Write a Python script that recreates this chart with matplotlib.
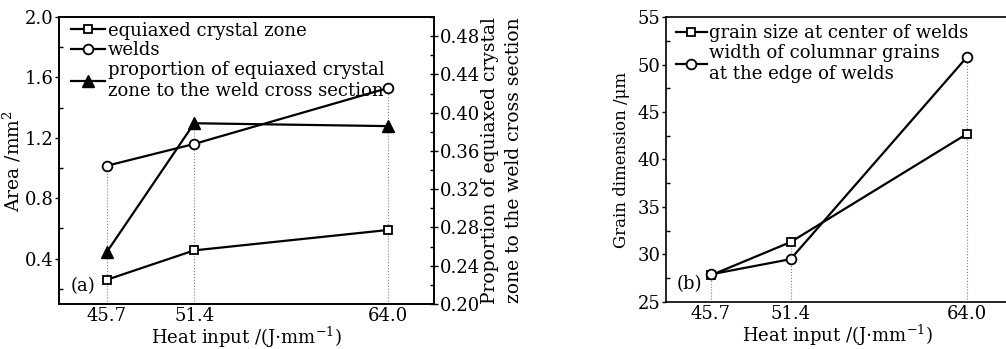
import matplotlib.pyplot as plt
from matplotlib.ticker import MultipleLocator

plt.rcParams['font.family'] = ['DejaVu Serif']
plt.rcParams['mathtext.fontset'] = 'dejavuserif'

# data
heat_input = [45.7, 51.4, 64.0]
area_equiaxed = [0.26, 0.455, 0.59]
area_welds = [1.015, 1.16, 1.53]
proportion = [0.254, 0.389, 0.386]
grain_center = [27.8, 31.3, 42.7]
grain_edge = [27.9, 29.5, 50.8]

fig = plt.figure(figsize=(10.06, 3.49), dpi=100)
fs = 13
fl = 13.5

# ---- (a) ----
ax1 = fig.add_axes([0.0586, 0.129, 0.3728, 0.822])
ax2 = ax1.twinx()

ax1.plot(heat_input, area_equiaxed, '-s', color='black', lw=1.6, ms=6,
         mfc='white', mec='black', mew=1.3, label='equiaxed crystal zone', zorder=3)
ax1.plot(heat_input, area_welds, '-o', color='black', lw=1.6, ms=7,
         mfc='white', mec='black', mew=1.3, label='welds', zorder=3)
ax2.plot(heat_input, proportion, '-^', color='black', lw=1.6, ms=8,
         label='proportion of equiaxed crystal\nzone to the weld cross section', zorder=3)

ax1.set_xlim(42.6, 67.0)
ax1.set_ylim(0.1, 2.0)
ax2.set_ylim(0.20, 0.50)

# dotted guide lines up to the highest point at each x
tops_a = [max(a, (p - 0.20) / 0.30 * 1.9 + 0.1) for a, p in zip(area_welds, proportion)]
for x, t in zip(heat_input, tops_a):
    ax1.plot([x, x], [0.1, t], ':', color='gray', lw=0.8, zorder=1)

ax1.set_xticks(heat_input)
ax1.set_xticklabels(['45.7', '51.4', '64.0'])
ax1.yaxis.set_minor_locator(MultipleLocator(0.2))
ax1.set_yticks([0.4, 0.8, 1.2, 1.6, 2.0])
ax2.yaxis.set_minor_locator(MultipleLocator(0.02))
ax2.set_yticks([0.20, 0.24, 0.28, 0.32, 0.36, 0.40, 0.44, 0.48])
ax2.set_yticklabels(['0.20', '0.24', '0.28', '0.32', '0.36', '0.40', '0.44', '0.48'])

ax1.tick_params(axis='x', length=0, labelsize=fs, pad=2)
ax1.tick_params(axis='y', which='major', direction='out', length=3, width=1, labelsize=fs, pad=1)
ax1.tick_params(axis='y', which='minor', direction='in', length=3, width=1)
ax2.tick_params(axis='y', which='major', direction='inout', length=6, width=1, labelsize=fs, pad=1)
ax2.tick_params(axis='y', which='minor', direction='in', length=3, width=1)

ax1.set_xlabel('Heat input /(J$\\cdot$mm$^{-1}$)', fontsize=fs, labelpad=0)
ax1.set_ylabel('Area /mm$^2$', fontsize=fl, labelpad=1)
ax2.set_ylabel('Proportion of equiaxed crystal\nzone to the weld cross section',
               fontsize=fl, labelpad=1, linespacing=1.4)

for ax in (ax1, ax2):
    for s in ax.spines.values():
        s.set_linewidth(1.2)

h1, l1 = ax1.get_legend_handles_labels()
h2, l2 = ax2.get_legend_handles_labels()
leg = ax1.legend(h1 + h2, l1 + l2, loc='upper left', bbox_to_anchor=(0.019, 1.0),
                 frameon=False, fontsize=fs,
                 handlelength=1.9, handletextpad=0.15, labelspacing=0.1,
                 borderaxespad=0.1, borderpad=0.15)
leg.set_zorder(5)
ax1.text(0.03, 0.03, '(a)', transform=ax1.transAxes, fontsize=fs, ha='left', va='bottom')

# ---- (b) ----
ax3 = fig.add_axes([0.662, 0.135, 0.341, 0.816])
ax3.plot(heat_input, grain_center, '-s', color='black', lw=1.6, ms=6,
         mfc='white', mec='black', mew=1.3, label='grain size at center of welds', zorder=3)
ax3.plot(heat_input, grain_edge, '-o', color='black', lw=1.6, ms=7,
         mfc='white', mec='black', mew=1.3,
         label='width of columnar grains\nat the edge of welds', zorder=3)
ax3.set_xlim(42.5, 67.0)
ax3.set_ylim(25, 55)
for x, a, b in zip(heat_input, grain_center, grain_edge):
    ax3.plot([x, x], [25, max(a, b)], ':', color='gray', lw=0.8, zorder=1)

ax3.set_xticks(heat_input)
ax3.set_xticklabels(['45.7', '51.4', '64.0'])
ax3.yaxis.set_major_locator(MultipleLocator(5))
ax3.yaxis.set_minor_locator(MultipleLocator(2.5))
ax3.tick_params(axis='x', length=0, labelsize=fs, pad=2)
ax3.tick_params(axis='y', which='major', direction='out', length=3, width=1, labelsize=fs, pad=1)
ax3.tick_params(axis='y', which='minor', direction='in', length=3, width=1)
ax3.set_xlabel('Heat input /(J$\\cdot$mm$^{-1}$)', fontsize=fs, labelpad=0)
ax3.set_ylabel('Grain dimension /μm', fontsize=12, labelpad=5)
for s in ax3.spines.values():
    s.set_linewidth(1.2)
ax3.legend(loc='upper left', bbox_to_anchor=(0.008, 1.0), frameon=False, fontsize=fs,
           handlelength=1.7, handletextpad=0.15, labelspacing=0.1,
           borderaxespad=0.15, borderpad=0.25)
ax3.text(0.03, 0.03, '(b)', transform=ax3.transAxes, fontsize=fs, ha='left', va='bottom')

fig.savefig('out.png', dpi=100)
